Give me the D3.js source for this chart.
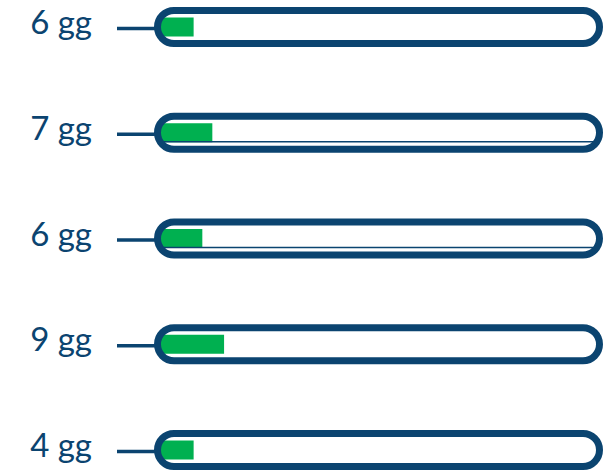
<!DOCTYPE html>
<html>
<head>
<meta charset="utf-8">
<script src="https://cdn.jsdelivr.net/npm/d3@7"></script>
<style>
  html, body { margin: 0; padding: 0; background: #fff; }
  svg { display: block; }
</style>
</head>
<body>
<div id="chart"></div>
<script>
// values
const days = [6, 7, 6, 9, 4];
const labels = days.map(d => d + " gg");
// how far the green fill goes, in % of the track
const progress = [7.5, 11.8, 9.5, 14.5, 7.5];
// rows 2 and 3 show an extra thin rule inside the track
const doubled = [false, true, true, false, false];

const width = 603, height = 472;
const blue = "#0b4470", green = "#00b050";
const strokeW = 7;
const capH = 33; // capsule height (stroke centre to stroke centre)

const svg = d3.select("#chart").append("svg")
    .attr("width", width)
    .attr("height", height);

const y = d3.scalePoint()
    .domain(d3.range(days.length))
    .range([27, 450]);

const trackLeft = 154 + strokeW / 2;
const trackRight = width - strokeW / 2;
const innerLeft = trackLeft + strokeW / 2;
const x = d3.scaleLinear()
    .domain([0, 100])
    .range([0, trackRight - trackLeft - strokeW]);

const rows = svg.selectAll("g.row")
    .data(days)
    .join("g")
    .attr("class", "row")
    .attr("transform", (d, i) => `translate(0,${y(i)})`);

// green fill
rows.append("rect")
    .attr("x", innerLeft)
    .attr("y", -9.5)
    .attr("width", (d, i) => x(progress[i]))
    .attr("height", 19)
    .attr("fill", green);

// thin inner rule
rows.filter((d, i) => doubled[i])
    .append("line")
    .attr("x1", innerLeft - 2)
    .attr("x2", trackRight - 6)
    .attr("y1", 9)
    .attr("y2", 9)
    .attr("stroke", blue)
    .attr("stroke-width", 1.6);

// capsule outline
rows.append("rect")
    .attr("x", trackLeft)
    .attr("y", -capH / 2)
    .attr("width", trackRight - trackLeft)
    .attr("height", capH)
    .attr("rx", capH / 2)
    .attr("ry", capH / 2)
    .attr("fill", "none")
    .attr("stroke", blue)
    .attr("stroke-width", strokeW);

// leader tick
rows.append("line")
    .attr("x1", 117)
    .attr("x2", 155)
    .attr("y1", 1.5)
    .attr("y2", 1.5)
    .attr("stroke", blue)
    .attr("stroke-width", 3.5);

// label
rows.append("text")
    .attr("x", 92)
    .attr("y", 7)
    .attr("text-anchor", "end")
    .attr("font-family", "Lato, 'Open Sans', sans-serif")
    .attr("font-size", 33)
    .attr("fill", blue)
    .text((d, i) => labels[i]);
</script>
</body>
</html>
